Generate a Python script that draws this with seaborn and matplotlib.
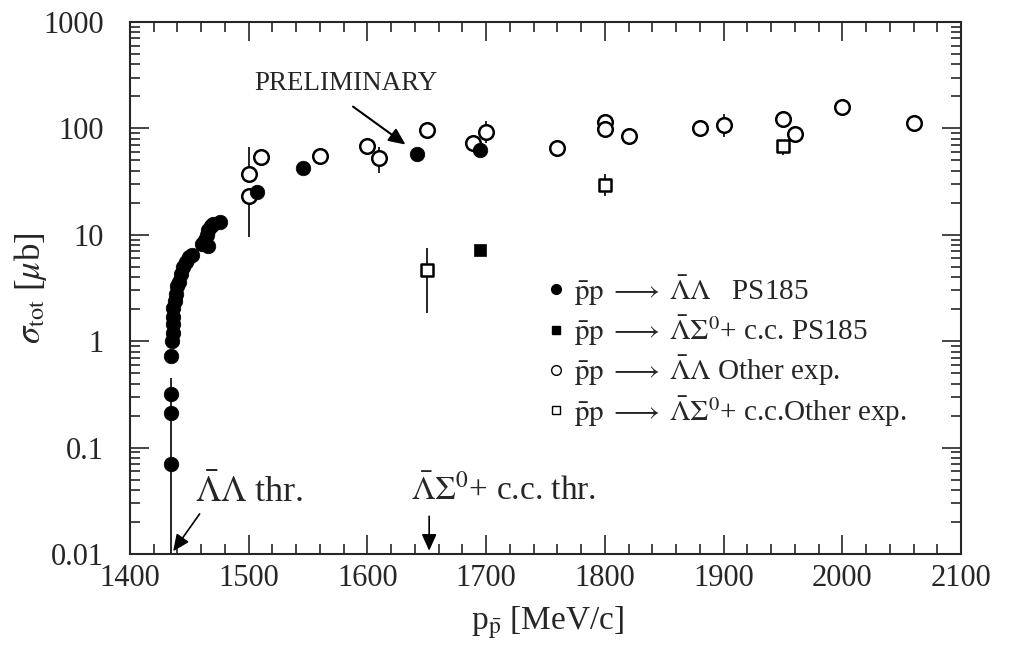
import numpy as np
import pandas as pd
import matplotlib
matplotlib.use("Agg")
import matplotlib.pyplot as plt
import seaborn as sns
from matplotlib.lines import Line2D
from matplotlib.ticker import LogLocator, MultipleLocator, FixedLocator, FuncFormatter, NullFormatter

# ---------------- data ----------------
# pbar p -> Lambdabar Lambda, PS185 (filled circles)
ps185_ll_p = [1434.4, 1434.4, 1434.4, 1434.5, 1435.5, 1436.0, 1436.5, 1436.0, 1436.5,
              1437.5, 1438.5, 1440.0, 1441.5, 1443.0, 1445.0, 1447.0, 1450.0, 1452.0,
              1461.0, 1463.0, 1465.0, 1466.0, 1468.0, 1470.0, 1476.0, 1466.0,
              1507.0, 1546.0, 1642.0, 1695.0]
ps185_ll_s = [0.07, 0.21, 0.32, 0.73, 1.0, 1.2, 1.45, 1.7, 2.05,
              2.4, 2.8, 3.3, 3.6, 4.3, 5.0, 5.6, 6.2, 6.5,
              8.2, 9.0, 10.0, 11.0, 12.0, 12.6, 13.3, 7.8,
              25.0, 42.0, 58.0, 63.0]
ps185_ll_lo = [0.0101] + [None] * 29
ps185_ll_hi = [0.45] + [None] * 29

# pbar p -> Lambdabar Sigma0 + c.c., PS185 (filled square)
ps185_ls_p = [1695.0]
ps185_ls_s = [7.2]

# pbar p -> Lambdabar Lambda, other experiments (open circles)
other_ll_p = [1500, 1500, 1510, 1560, 1600, 1610, 1650, 1689, 1700, 1760,
              1800, 1800, 1820, 1880, 1900, 1950, 1960, 2000, 2060]
other_ll_s = [37, 23, 54, 55, 68, 53, 97, 73, 93, 66,
              116, 99, 84, 100, 108, 122, 88, 158, 112]
other_ll_lo = [37, 9.5, 44, 55, 57, 38, 97, 73, 73, 66,
               116, 99, 84, 100, 83, 122, 88, 158, 112]
other_ll_hi = [67, 23, 63, 55, 82, 67, 97, 73, 118, 66,
               116, 99, 84, 100, 138, 122, 88, 158, 112]

# pbar p -> Lambdabar Sigma0 + c.c., other experiments (open squares)
other_ls_p = [1650, 1800, 1950]
other_ls_s = [4.7, 29.6, 68]
other_ls_lo = [1.86, 23, 56]
other_ls_hi = [7.5, 37, 76]

x_ticks = [1400, 1500, 1600, 1700, 1800, 1900, 2000, 2100]
y_ticks = [0.01, 0.1, 1, 10, 100, 1000]
y_tick_labels = ["0.01", "0.1", "1", "10", "100", "1000"]

legend_labels = [
    r"$\bar{\rm p}{\rm p}\;\longrightarrow\;\bar{\Lambda}\Lambda$   PS185",
    r"$\bar{\rm p}{\rm p}\;\longrightarrow\;\bar{\Lambda}\Sigma^0$+ c.c. PS185",
    r"$\bar{\rm p}{\rm p}\;\longrightarrow\;\bar{\Lambda}\Lambda$ Other exp.",
    r"$\bar{\rm p}{\rm p}\;\longrightarrow\;\bar{\Lambda}\Sigma^0$+ c.c.Other exp.",
]

# ---------------- style ----------------
sns.set_style("ticks")
plt.rcParams["font.family"] = ["Liberation Serif", "DejaVu Serif"]
plt.rcParams["mathtext.fontset"] = "stix"
plt.rcParams["axes.linewidth"] = 1.5

fig = plt.figure(figsize=(10.16, 6.46), dpi=100)
ax = fig.add_axes([130 / 1016, 1 - 554 / 646, 831 / 1016, 532 / 646])


def add_err(ax, p, s, lo, hi):
    for xi, yi, l, h in zip(p, s, lo, hi):
        if l is None:
            continue
        ax.errorbar([xi], [yi], yerr=[[yi - l], [h - yi]], fmt="none",
                    ecolor="black", elinewidth=1.2, capsize=0, zorder=1)


add_err(ax, ps185_ll_p, ps185_ll_s, ps185_ll_lo, ps185_ll_hi)
add_err(ax, other_ll_p, other_ll_s, other_ll_lo, other_ll_hi)
add_err(ax, other_ls_p, other_ls_s, other_ls_lo, other_ls_hi)

df1 = pd.DataFrame({"p": ps185_ll_p, "s": ps185_ll_s})
df2 = pd.DataFrame({"p": ps185_ls_p, "s": ps185_ls_s})
df3 = pd.DataFrame({"p": other_ll_p, "s": other_ll_s})
df4 = pd.DataFrame({"p": other_ls_p, "s": other_ls_s})

sns.scatterplot(data=df3, x="p", y="s", ax=ax, marker="o", s=110, color="white",
                edgecolor="black", linewidth=1.8, zorder=3, legend=False)
sns.scatterplot(data=df4, x="p", y="s", ax=ax, marker="s", s=80, color="white",
                edgecolor="black", linewidth=1.8, zorder=3, legend=False)
sns.scatterplot(data=df1, x="p", y="s", ax=ax, marker="o", s=110, color="black",
                edgecolor="black", linewidth=0.5, zorder=4, legend=False)
sns.scatterplot(data=df2, x="p", y="s", ax=ax, marker="s", s=70, color="black",
                edgecolor="black", linewidth=0.5, zorder=4, legend=False)

ax.set_yscale("log")
ax.set_xlim(1400, 2100)
ax.set_ylim(0.01, 1000)

ax.xaxis.set_major_locator(FixedLocator(x_ticks))
ax.xaxis.set_minor_locator(MultipleLocator(20))
ax.yaxis.set_major_locator(FixedLocator(y_ticks))
ax.yaxis.set_major_formatter(FuncFormatter(
    lambda v, pos: y_tick_labels[int(np.argmin([abs(np.log10(t) - np.log10(v)) for t in y_ticks]))]))
ax.yaxis.set_minor_locator(LogLocator(base=10, subs=np.arange(2, 10), numticks=20))
ax.yaxis.set_minor_formatter(NullFormatter())

ax.tick_params(which="both", direction="in", top=True, right=True, labelsize=22, width=1.2)
ax.tick_params(which="major", length=14)
ax.tick_params(which="minor", length=7)
ax.tick_params(axis="x", which="major", pad=7)
ax.tick_params(axis="y", which="major", pad=19)

ax.set_xlabel(r"p$_{\bar{\rm p}}$ [MeV/c]", fontsize=24)
ax.set_ylabel(r"$\sigma_{\rm tot}$ [$\mu$b]", fontsize=25)
ax.xaxis.set_label_coords(0.503, -0.095)
ax.yaxis.set_label_coords(-0.098, 0.5)

# annotations
ax.text(1582, 267, "PRELIMINARY", fontsize=19.5, ha="center", va="center")
ax.annotate("", xy=(1634, 68), xytext=(1586, 166),
            arrowprops=dict(arrowstyle="-|>,head_length=1.0,head_width=0.45", color="black", lw=1.5))

ax.text(1455, 0.031, r"$\bar{\Lambda}\Lambda$ thr.", fontsize=26, ha="left", va="baseline")
ax.annotate("", xy=(1435, 0.0101), xytext=(1460, 0.025),
            arrowprops=dict(arrowstyle="-|>,head_length=1.0,head_width=0.45", color="black", lw=1.2))

ax.text(1637, 0.032, r"$\bar{\Lambda}\Sigma^0$+ c.c. thr.", fontsize=24, ha="left", va="baseline")
ax.annotate("", xy=(1652, 0.0101), xytext=(1652, 0.024),
            arrowprops=dict(arrowstyle="-|>,head_length=1.0,head_width=0.45", color="black", lw=1.2))

handles = [
    Line2D([], [], marker="o", ls="none", color="black", markersize=7),
    Line2D([], [], marker="s", ls="none", color="black", markersize=6),
    Line2D([], [], marker="o", ls="none", markerfacecolor="white", markeredgecolor="black", markersize=7),
    Line2D([], [], marker="s", ls="none", markerfacecolor="white", markeredgecolor="black", markersize=6),
]
ax.legend(handles, legend_labels, loc="upper left", bbox_to_anchor=(0.49, 0.55),
          frameon=False, fontsize=21, handlelength=0.5, handletextpad=0.35,
          labelspacing=0.2, borderaxespad=0)

fig.savefig("out.png", dpi=100)
